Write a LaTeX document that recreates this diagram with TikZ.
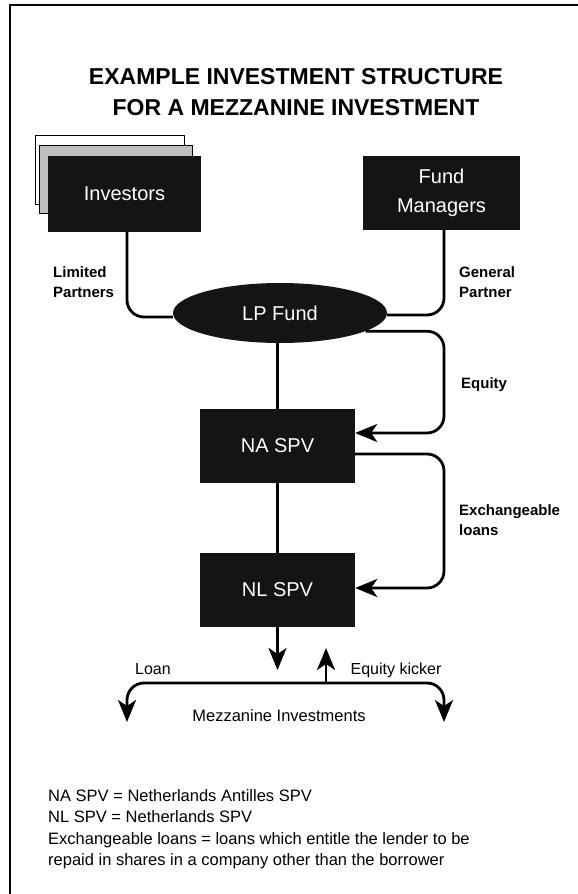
\documentclass[tikz,border=0pt]{standalone}
\usepackage{fontspec}
\setmainfont{Liberation Sans}
\usetikzlibrary{arrows.meta,shapes.geometric,calc}
\begin{document}
\begin{tikzpicture}[x=1pt,y=-1pt,
  darkbox/.style={rectangle,draw=none,fill=black!92,text=white,inner sep=0pt,align=center,font=\fontsize{20}{29}\selectfont},
  shadowbox/.style={rectangle,draw=black,line width=1pt,inner sep=0pt},
  conn/.style={line width=2.8pt,rounded corners=17pt},
  tip/.style={-{Stealth[length=22pt,width=18pt,inset=6pt]}},
  lbl/.style={font=\fontsize{15}{19.5}\selectfont\bfseries,align=left,anchor=west,inner sep=0pt},
  plain/.style={font=\fontsize{16}{21}\selectfont,inner sep=0pt,anchor=base}]
\useasboundingbox (0,0) rectangle (578,894);
\fill[white] (0,0) rectangle (578,894);
\draw[line width=1.2pt] (10,894) -- (10,5) -- (578,5);

\node[font=\fontsize{23}{31}\selectfont\bfseries,align=center,inner sep=0pt] (title) at (296,92.5) {EXAMPLE INVESTMENT STRUCTURE\\FOR A MEZZANINE INVESTMENT};

% investors stack
\node[shadowbox,fill=white,minimum width=149pt,minimum height=69pt] (invback) at (109.5,169.5) {};
\node[shadowbox,fill=black!25,minimum width=153pt,minimum height=68pt] (invmid) at (115.5,179) {};
\node[darkbox,minimum width=153pt,minimum height=76pt] (inv) at (124.5,194) {Investors};

\node[darkbox,minimum width=157pt,minimum height=74pt] (fm) at (441.5,193) {Fund\\Managers};

\node[ellipse,draw=none,fill=black!92,text=white,inner sep=0pt,minimum width=214pt,minimum height=60pt,font=\fontsize{20}{24}\selectfont] (lp) at (280,313) {LP Fund};

\node[darkbox,minimum width=155pt,minimum height=74pt] (na) at (277.5,446) {NA SPV};
\node[darkbox,minimum width=155pt,minimum height=74pt] (nl) at (277.5,590) {NL SPV};

% connectors
\draw[conn] ([xshift=2.5pt]inv.south) |- ([yshift=-4pt]lp.west);
\draw[conn] ([xshift=2.5pt]fm.south) |- ([yshift=-2pt]lp.east);
\draw[conn] (na.north |- lp.south) -- (na.north);
\draw[conn] (na.south) -- (nl.north);

\coordinate (eqx) at (444,380);
\draw[conn,tip] (lp.-12) -| (eqx) |- ([yshift=13pt]na.east);
\coordinate (exx) at (444,520);
\draw[conn,tip] ([yshift=-8pt]na.east) -| (exx) |- ([yshift=2pt]nl.east);

\coordinate (dtip) at (277.5,670);
\draw[conn,tip] (nl.south) -- (dtip);
\coordinate (bm) at (326,683);
\coordinate (utip) at (326,648);
\coordinate (ltip) at (127,722);
\coordinate (rtip) at (444,722);
\draw[conn,tip] (bm) -| (ltip);
\draw[conn,tip] (bm) -| (rtip);
\draw[conn,tip] (bm) -- (utip);

% labels
\node[lbl] (lim) at (53,282) {Limited\\Partners};
\node[lbl] (gen) at (459,282) {General\\Partner};
\node[lbl] (eq) at (461,385) {Equity};
\node[lbl] (exl) at (459,520) {Exchangeable\\loans};
\node[plain] (loan) at (153,674) {Loan};
\node[plain] (kick) at (396,674) {Equity kicker};
\node[plain,font=\fontsize{16.5}{21}\selectfont] (mezz) at (279,721) {Mezzanine Investments};

\node[font=\fontsize{16.5}{21.5}\selectfont,align=left,anchor=west,inner sep=0pt] (legend) at (48,829) {NA SPV = Netherlands Antilles SPV\\NL SPV = Netherlands SPV\\Exchangeable loans = loans which entitle the lender to be\\repaid in shares in a company other than the borrower};
\end{tikzpicture}
\end{document}
